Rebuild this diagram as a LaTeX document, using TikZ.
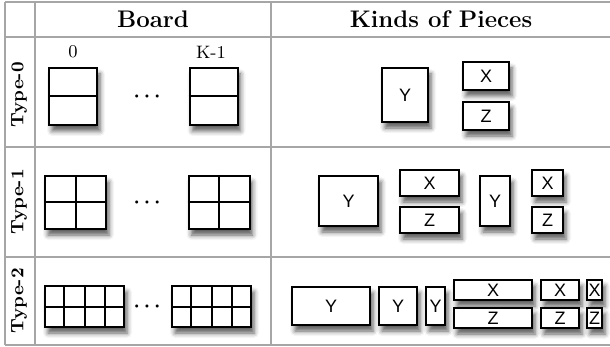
\documentclass[tikz,border=0pt]{standalone}
\usepackage{fontspec}
\newfontfamily\piecefont{Liberation Sans}
\usetikzlibrary{calc,shadows.blur}
\tikzset{
  piece/.style={draw,line width=1pt,fill=white,inner sep=0pt,font=\piecefont\small,
    blur shadow={shadow xshift=1.5pt,shadow yshift=-3pt,shadow blur radius=2.5pt,shadow opacity=65}},
  board/.style={piece},
  gridline/.style={line width=1pt},
  rule/.style={gray!70,line width=0.7pt}
}
\begin{document}
\begin{tikzpicture}[x=0.5pt,y=-0.5pt]
    \useasboundingbox (0,0) rectangle (610,347);

    \begin{scope}[rule]
      \foreach \y in {2,37,147,257,345}
        \draw (5,\y) -- (610,\y);
      \foreach \x in {5,35,271}
        \draw (\x,2) -- (\x,345);
    \end{scope}

    \node[font=\large\bfseries] (board) at (153,19) {Board};
    \node[font=\large\bfseries] (kinds) at (441,19) {Kinds of Pieces};
    \foreach \r/\y in {0/95,1/202,2/301}
      \node[rotate=90,font=\small\bfseries] (type\r) at (19,\y) {Type-\r};

    \node[font=\small] (first) at (73,52) {0};
    \node[font=\small] (last) at (211,52) {K-1};

    \foreach \r/\c/\xa/\xb/\y/\w/\h in {0/1/73/213.5/96.5/24/28.5,
                                        1/2/75.5/219/202.5/30.5/26.5,
                                        2/4/84.5/211.5/306.5/39.5/20.5} {
      \node[board,minimum width=\w pt,minimum height=\h pt] (B_\r_0) at (\xa,\y) {};
      \node[board,minimum width=\w pt,minimum height=\h pt] (B_\r_K) at (\xb,\y) {};
      \node[font=\boldmath] (dots_\r) at (147,\y) {$\cdots$};
      \foreach \b in {B_\r_0,B_\r_K} {
        \draw[gridline] (\b.west) -- (\b.east);
        \ifnum\c>1
          \foreach \k in {2,...,\c}
            \draw[gridline] ($(\b.north west)!{(\k-1)/\c}!(\b.north east)$)
              -- ($(\b.south west)!{(\k-1)/\c}!(\b.south east)$);
        \fi
      }
    }

    \foreach \n/\x/\y/\w/\h/\t in {y0/405/95/23/27/Y, x0/486/76/23/14/X, z0/486/116/23/14/Z,
                                   ya1/348.5/201/29.5/25/Y, xa1/429.5/183/29.5/13/X, za1/429.5/220/29.5/13/Z,
                                   yb1/495/201/15/25/Y, xb1/547.5/183/15.5/13/X, zb1/547.5/220/15.5/13/Z,
                                   ya2/331/306/39/19/Y, yb2/398/306/19/19/Y, yc2/435.5/306/9.5/19/Y,
                                   xa2/493/290/39/10/X, za2/493/318/39/10/Z,
                                   xb2/560/290/19/10/X, zb2/560/318/19/10/Z,
                                   xc2/594.5/290/7.5/10/X, zc2/594.5/318/7.5/10/Z}
      \node[piece,minimum width=\w pt,minimum height=\h pt] (\n) at (\x,\y) {\t};
\end{tikzpicture}
\end{document}
